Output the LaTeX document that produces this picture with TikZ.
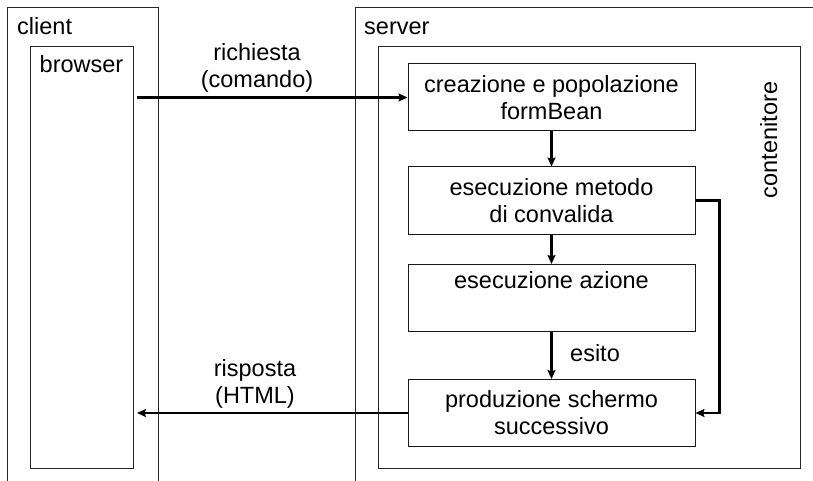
\documentclass[tikz,border=0pt]{standalone}
\usepackage{fontspec}
\setmainfont{Liberation Sans}
\usetikzlibrary{arrows.meta}
\begin{document}
\begin{tikzpicture}[x=1pt,y=-1pt,
  every node/.style={font=\fontsize{23.5}{27}\selectfont},
  frame/.style={draw=black!85, line width=1pt},
  stepbox/.style={draw=black!90, line width=1pt, minimum width=287pt,
    minimum height=67pt, align=center, inner sep=0pt},
  flow/.style={line width=2.6pt, -{Stealth[length=9pt,width=8pt,inset=1.5pt]}},
  tag/.style={inner sep=0pt, anchor=base west}
]
\useasboundingbox (0,0) rectangle (813,481);

% client side
\draw[frame] (7,481) -- (7,8) -- (158,8) -- (158,481);
\node[tag] (clienttag) at (17,35) {client};
\node[frame, anchor=north west, minimum width=103pt, minimum height=422pt,
  inner sep=0pt] (browser) at (30,46) {};
\node[inner sep=0pt, anchor=base] (browsertag) at (81.5,73) {browser};

% server side
\draw[frame] (355,481) -- (355,8) -- (813,8);
\node[tag] (servertag) at (364,35) {server};
\node[frame, anchor=north west, minimum width=422pt, minimum height=422pt,
  inner sep=0pt] (cont) at (378,46) {};
\node[inner sep=0pt, anchor=base, rotate=90] (conttag) at (777,140) {contenitore};

% processing steps
\node[stepbox] (s1) at (551.5,97.5) {creazione e popolazione\\formBean};
\node[stepbox] (s2) at (551.5,200.5) {esecuzione metodo\\di convalida};
\node[stepbox] (s3) at (551.5,298) {esecuzione azione\\\strut};
\node[stepbox] (s4) at (551.5,413) {produzione schermo\\successivo};

% request and response
\coordinate (reqstart) at ([xshift=3pt]browser.east |- s1.west);
\coordinate (respend) at ([xshift=3pt]browser.east |- s4.west);
\draw[flow] (reqstart) -- (s1.west);
\node[align=center, inner sep=0pt, anchor=south] (reqtag) at (257,93)
  {richiesta\\(comando)};
\draw[flow] (s4.west) -- (respend);
\node[align=center, inner sep=0pt, anchor=south] (resptag) at (255,409)
  {risposta\\(HTML)};

% flow between steps
\draw[flow] (s1) -- (s2);
\draw[flow] (s2) -- (s3);
\draw[flow] (s3) -- (s4);
\node[tag, anchor=west] (esitotag) at (570,353) {esito};
\draw[flow] (s2.east) -- ++(24,0) |- (s4.east);
\end{tikzpicture}
\end{document}
